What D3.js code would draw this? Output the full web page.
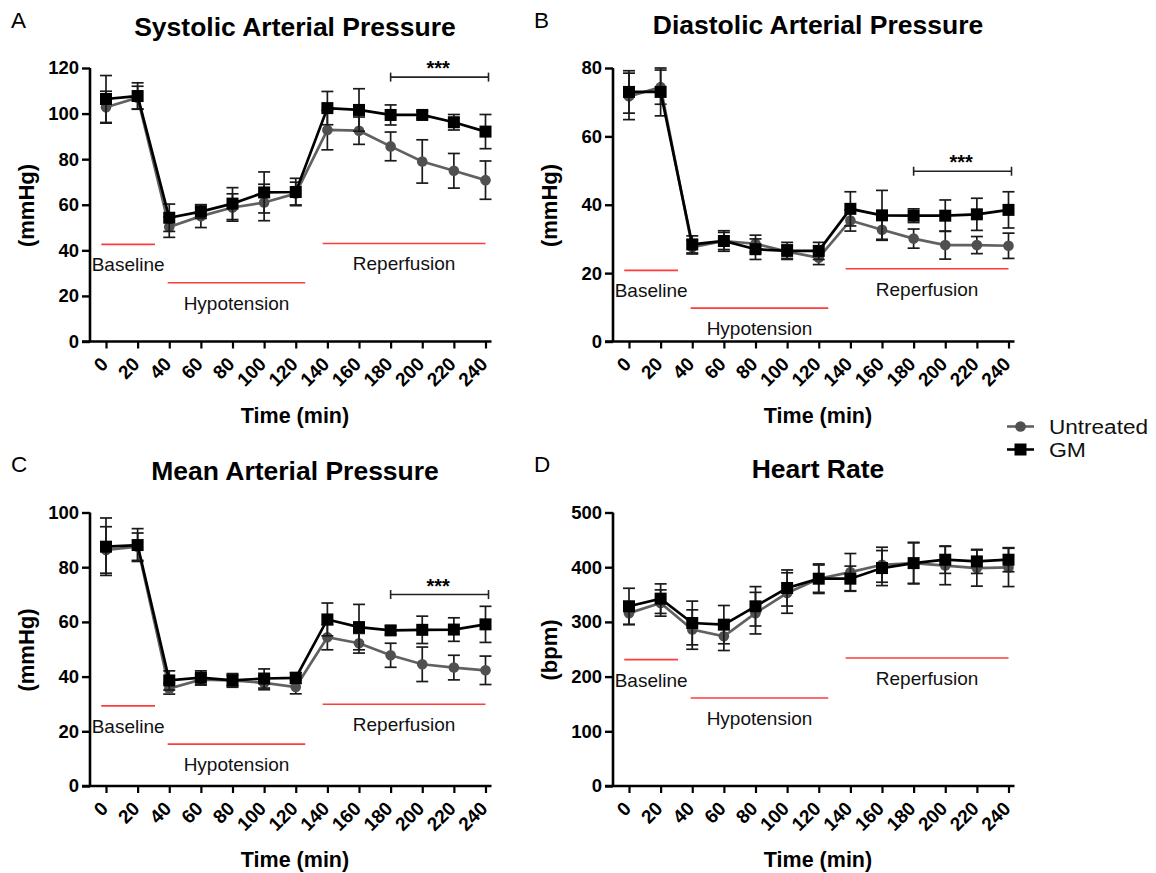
<!DOCTYPE html>
<html>
<head>
<meta charset="utf-8">
<script src="https://cdn.jsdelivr.net/npm/d3@7"></script>
<style>
  body { margin: 0; background: #fff; }
  text { font-family: "Liberation Sans", Arial, Helvetica, sans-serif; }
</style>
</head>
<body>
<svg id="fig" width="1156" height="873"></svg>
<script>
// time points (min)
const times = [0, 20, 40, 60, 80, 100, 120, 140, 160, 180, 200, 220, 240];

// Systolic arterial pressure (mmHg)
const sapUntreated = [102.8, 107, 50.2, 55, 58.8, 61, 64.9, 92.8, 92.5, 85.6, 79, 74.9, 70.8];
const sapUntreatedErr = [7, 5, 4.5, 5, 6, 8, 5, 8.7, 6, 6.3, 9.5, 7.6, 8.4];
const sapGM = [106.4, 107.7, 54.3, 57, 60.5, 65.4, 65.6, 102.4, 101.6, 99.4, 99.4, 96.2, 92.1];
const sapGMErr = [10.3, 5.8, 6, 3, 7, 9, 6, 7.3, 9.3, 4.4, 1.5, 3.4, 7.5];

// Diastolic arterial pressure (mmHg)
const dapUntreated = [71.7, 74.4, 27.6, 29.4, 28.6, 26.3, 24.5, 35.4, 32.7, 30.1, 28.2, 28.2, 28];
const dapUntreatedErr = [6.8, 5, 2, 2.5, 2.5, 2, 2, 3.1, 2.8, 2.8, 4.1, 2.5, 3.7];
const dapGM = [73, 73, 28.4, 29.4, 27, 26.5, 26.5, 38.8, 36.9, 36.8, 36.8, 37.2, 38.5];
const dapGMErr = [6.2, 7, 2.5, 3, 3, 2.5, 2.5, 5, 7.3, 2, 4.6, 4.7, 5.3];

// Mean arterial pressure (mmHg)
const mapUntreated = [86.3, 87.5, 35.6, 38.9, 38.6, 37.7, 36.2, 54.4, 52.2, 47.8, 44.5, 43.3, 42.3];
const mapUntreatedErr = [8.5, 5, 2, 2, 2, 2.5, 2.5, 4.6, 3.6, 4.4, 6.3, 4.5, 5.2];
const mapGM = [87.5, 88.1, 38.6, 39.6, 38.6, 39.3, 39.5, 60.9, 58.1, 56.9, 57.1, 57.2, 59.1];
const mapGMErr = [10.5, 6, 3.5, 2.5, 2.5, 3.5, 2, 6, 8.3, 1.5, 5, 4.3, 6.6];

// Heart rate (bpm)
const hrUntreated = [316, 334.5, 286, 273.7, 316, 352.8, 379, 391, 404.5, 407.5, 403, 398.4, 399.6];
const hrUntreatedErr = [21, 24, 36, 26, 38, 37, 25, 34, 32, 37, 35, 33, 35];
const hrGM = [328.5, 342.5, 298, 295, 328.5, 362, 379, 379, 398.4, 407.5, 413.7, 410.6, 413.7];
const hrGMErr = [33, 27, 40, 35, 36, 33, 27, 23, 32, 38, 25, 22, 22];

// experimental phases (min)
const phaseNames = ["Baseline", "Hypotension", "Reperfusion"];
const phaseStart = [-3, 39, 137];
const phaseEnd = [31, 126, 240];

// significance bracket (min)
const sigFrom = 180, sigTo = 240, sigLabel = "***";

const seriesNames = ["Untreated", "GM"];
const xTicks = times;

const panels = [
  { letter: "A", title: "Systolic Arterial Pressure", ylabel: "(mmHg)", ymax: 120, ystep: 20,
    untreated: sapUntreated, untreatedErr: sapUntreatedErr, gm: sapGM, gmErr: sapGMErr,
    phaseY: [42.6, 25.8, 43], sigY: 116, col: 0, row: 0 },
  { letter: "B", title: "Diastolic Arterial Pressure", ylabel: "(mmHg)", ymax: 80, ystep: 20,
    untreated: dapUntreated, untreatedErr: dapUntreatedErr, gm: dapGM, gmErr: dapGMErr,
    phaseY: [20.8, 9.75, 21.3], sigY: 49.8, col: 1, row: 0 },
  { letter: "C", title: "Mean Arterial Pressure", ylabel: "(mmHg)", ymax: 100, ystep: 20,
    untreated: mapUntreated, untreatedErr: mapUntreatedErr, gm: mapGM, gmErr: mapGMErr,
    phaseY: [29.3, 15.3, 29.9], sigY: 70, col: 0, row: 1 },
  { letter: "D", title: "Heart Rate", ylabel: "(bpm)", ymax: 500, ystep: 100,
    untreated: hrUntreated, untreatedErr: hrUntreatedErr, gm: hrGM, gmErr: hrGMErr,
    phaseY: [231, 161, 234], sigY: null, col: 1, row: 1 }
];

const svg = d3.select("#fig");
const colX = [90, 613];      // y-axis position of each column
const rowY = [341.5, 786];   // x-axis position of each row
const plotH = 273.5;
const greyCol = "#616161";

panels.forEach((p) => {
  const ax = colX[p.col];
  const ay = rowY[p.row];
  const x = d3.scaleLinear().domain([0, 240]).range([ax + 16, ax + 395.5]);
  const y = d3.scaleLinear().domain([0, p.ymax]).range([ay, ay - plotH]);
  const g = svg.append("g");
  const cx = ax + 205;

  // panel letter + title
  g.append("text").attr("x", ax - 79).attr("y", ay - 314)
    .attr("font-size", 22.5).text(p.letter);
  g.append("text").attr("x", cx).attr("y", ay - 306 + (p.col ? -2 : 0))
    .attr("text-anchor", "middle").attr("font-size", 26.5).attr("font-weight", "bold")
    .text(p.title);

  // y axis
  const yAxis = d3.axisLeft(y).tickValues(d3.range(0, p.ymax + 1, p.ystep))
    .tickSize(8).tickPadding(3).tickFormat(d3.format("d"));
  const gy = g.append("g").attr("transform", `translate(${ax},0)`).call(yAxis);
  gy.select(".domain").remove();
  gy.append("line").attr("x1", 0).attr("x2", 0).attr("y1", y(p.ymax)).attr("y2", ay)
    .attr("stroke", "#000").attr("stroke-width", 2.6);
  gy.selectAll(".tick line").attr("stroke-width", 2.4);
  gy.selectAll(".tick text").attr("font-size", 18.5).attr("font-weight", "bold")
    .attr("fill", "#000").attr("font-family", "Liberation Sans, Arial, sans-serif");

  // x axis
  const xAxis = d3.axisBottom(x).tickValues(xTicks).tickSize(7).tickFormat(d3.format("d"));
  const gx = g.append("g").attr("transform", `translate(0,${ay})`).call(xAxis);
  gx.select(".domain").remove();
  gx.append("line").attr("x1", ax - 8).attr("x2", x(240) + 6).attr("y1", 0).attr("y2", 0)
    .attr("stroke", "#000").attr("stroke-width", 2.6);
  gx.selectAll(".tick line").attr("stroke-width", 2.2);
  gx.selectAll(".tick text")
    .attr("font-size", 19).attr("font-weight", "bold").attr("fill", "#000")
    .attr("font-family", "Liberation Sans, Arial, sans-serif")
    .attr("text-anchor", "end").attr("x", 0).attr("y", 0).attr("dy", "0.35em")
    .attr("transform", "translate(-2,19) rotate(-45)");

  // axis titles
  g.append("text").attr("x", cx).attr("y", ay + 81)
    .attr("text-anchor", "middle").attr("font-size", 21.5).attr("font-weight", "bold")
    .text("Time (min)");
  g.append("text")
    .attr("transform", `translate(${ax - 56},${ay - 136}) rotate(-90)`)
    .attr("text-anchor", "middle").attr("font-size", 22).attr("font-weight", "bold")
    .text(p.ylabel);

  // phase annotations
  phaseNames.forEach((name, i) => {
    const x1 = x(phaseStart[i]), x2 = x(phaseEnd[i]);
    const py = y(p.phaseY[i]);
    g.append("line").attr("x1", x1).attr("x2", x2).attr("y1", py).attr("y2", py)
      .attr("stroke", "#ff3b3b").attr("stroke-width", 1.6);
    g.append("text").attr("x", (x1 + x2) / 2).attr("y", py + 27)
      .attr("text-anchor", "middle").attr("font-size", 19).attr("fill", "#111")
      .text(name);
  });

  // significance bracket
  if (p.sigY !== null) {
    const sy = y(p.sigY);
    const sb = g.append("g").attr("stroke", "#222").attr("stroke-width", 1.6);
    sb.append("line").attr("x1", x(sigFrom)).attr("x2", x(sigTo) + 3).attr("y1", sy).attr("y2", sy);
    [x(sigFrom), x(sigTo) + 3].forEach((xx) => {
      sb.append("line").attr("x1", xx).attr("x2", xx).attr("y1", sy - 4.5).attr("y2", sy + 4.5);
    });
    g.append("text").attr("x", (x(sigFrom) + x(sigTo)) / 2).attr("y", sy - 2)
      .attr("text-anchor", "middle").attr("font-size", 20).attr("font-weight", "bold")
      .text(sigLabel);
  }

  // series: untreated first, GM on top
  const series = [
    { vals: p.untreated, err: p.untreatedErr, color: greyCol, shape: "circle" },
    { vals: p.gm, err: p.gmErr, color: "#000", shape: "square" }
  ];
  const line = d3.line().x((d) => x(d[0])).y((d) => y(d[1]));

  series.forEach((s) => {
    const pts = times.map((t, i) => [t, s.vals[i], s.err[i]]);
    const eb = g.append("g").attr("stroke", "#1a1a1a").attr("stroke-width", 1.7);
    pts.forEach((d) => {
      const xx = x(d[0]);
      eb.append("line").attr("x1", xx).attr("x2", xx).attr("y1", y(d[1] - d[2])).attr("y2", y(d[1] + d[2]));
      [d[1] - d[2], d[1] + d[2]].forEach((v) => {
        eb.append("line").attr("x1", xx - 6).attr("x2", xx + 6).attr("y1", y(v)).attr("y2", y(v));
      });
    });
    g.append("path").datum(pts).attr("d", line).attr("fill", "none")
      .attr("stroke", s.color).attr("stroke-width", 2.7);
    if (s.shape === "circle") {
      g.selectAll(null).data(pts).enter().append("circle")
        .attr("cx", (d) => x(d[0])).attr("cy", (d) => y(d[1])).attr("r", 5.3)
        .attr("fill", "#505050");
    } else {
      g.selectAll(null).data(pts).enter().append("rect")
        .attr("x", (d) => x(d[0]) - 6).attr("y", (d) => y(d[1]) - 6)
        .attr("width", 12).attr("height", 12).attr("fill", "#000");
    }
  });
});

// legend
const legend = svg.append("g").attr("transform", "translate(1007,0)");
const legendWidths = [99, 37];
seriesNames.forEach((name, i) => {
  const ly = 426.5 + i * 23;
  const grey = i === 0;
  legend.append("line").attr("x1", 0).attr("x2", 27).attr("y1", ly).attr("y2", ly)
    .attr("stroke", grey ? greyCol : "#000").attr("stroke-width", 2.6);
  if (grey) {
    legend.append("circle").attr("cx", 13.5).attr("cy", ly).attr("r", 5.3).attr("fill", "#505050");
  } else {
    legend.append("rect").attr("x", 7.5).attr("y", ly - 6).attr("width", 12).attr("height", 12).attr("fill", "#000");
  }
  legend.append("text").attr("x", 42).attr("y", ly + 7.5).attr("font-size", 19.5).attr("fill", "#111")
    .attr("textLength", legendWidths[i]).attr("lengthAdjust", "spacingAndGlyphs")
    .text(name);
});
</script>
</body>
</html>
